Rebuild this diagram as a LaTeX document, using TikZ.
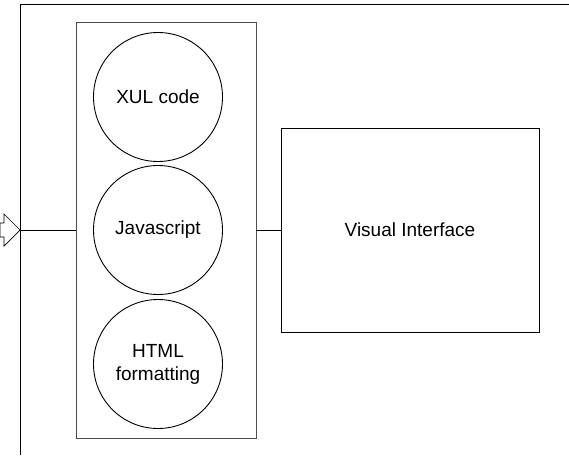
\documentclass[tikz,border=0pt]{standalone}
\usepackage{fontspec}
\setmainfont{Liberation Sans}
\begin{document}
\begin{tikzpicture}[x=1pt,y=-1pt,line width=0.9pt,
	part/.style={draw,circle,minimum size=129pt,inner sep=0pt,align=center,font=\fontsize{19}{23}\selectfont},
	panel/.style={draw,rectangle,inner sep=0pt,font=\fontsize{19}{23}\selectfont}]
				\useasboundingbox(0,0)rectangle(569,455);
				\draw(20,455)--(20,4)--(569,4);
				\draw[line width=0.7pt](0,223)--(4,223)--(4,214)--(20,230)--(4,246)--(4,237)--(0,237)--cycle;
				\coordinate(entry)at(20,230);
				\node[panel,draw=black!70,minimum width=180pt,minimum height=416pt](stack)at(166,230){};
				\node[part](xul)at(158,97){XUL code};
				\node[part](js)at(158,230){Javascript};
				\node[part](html)at(158,364){HTML\\formatting};
				\node[panel,minimum width=258pt,minimum height=204pt](visual)at(410,230){Visual Interface};
				\draw(entry)--(stack.west);
				\draw(stack.east)--(visual.west);
			\end{tikzpicture}
\end{document}
